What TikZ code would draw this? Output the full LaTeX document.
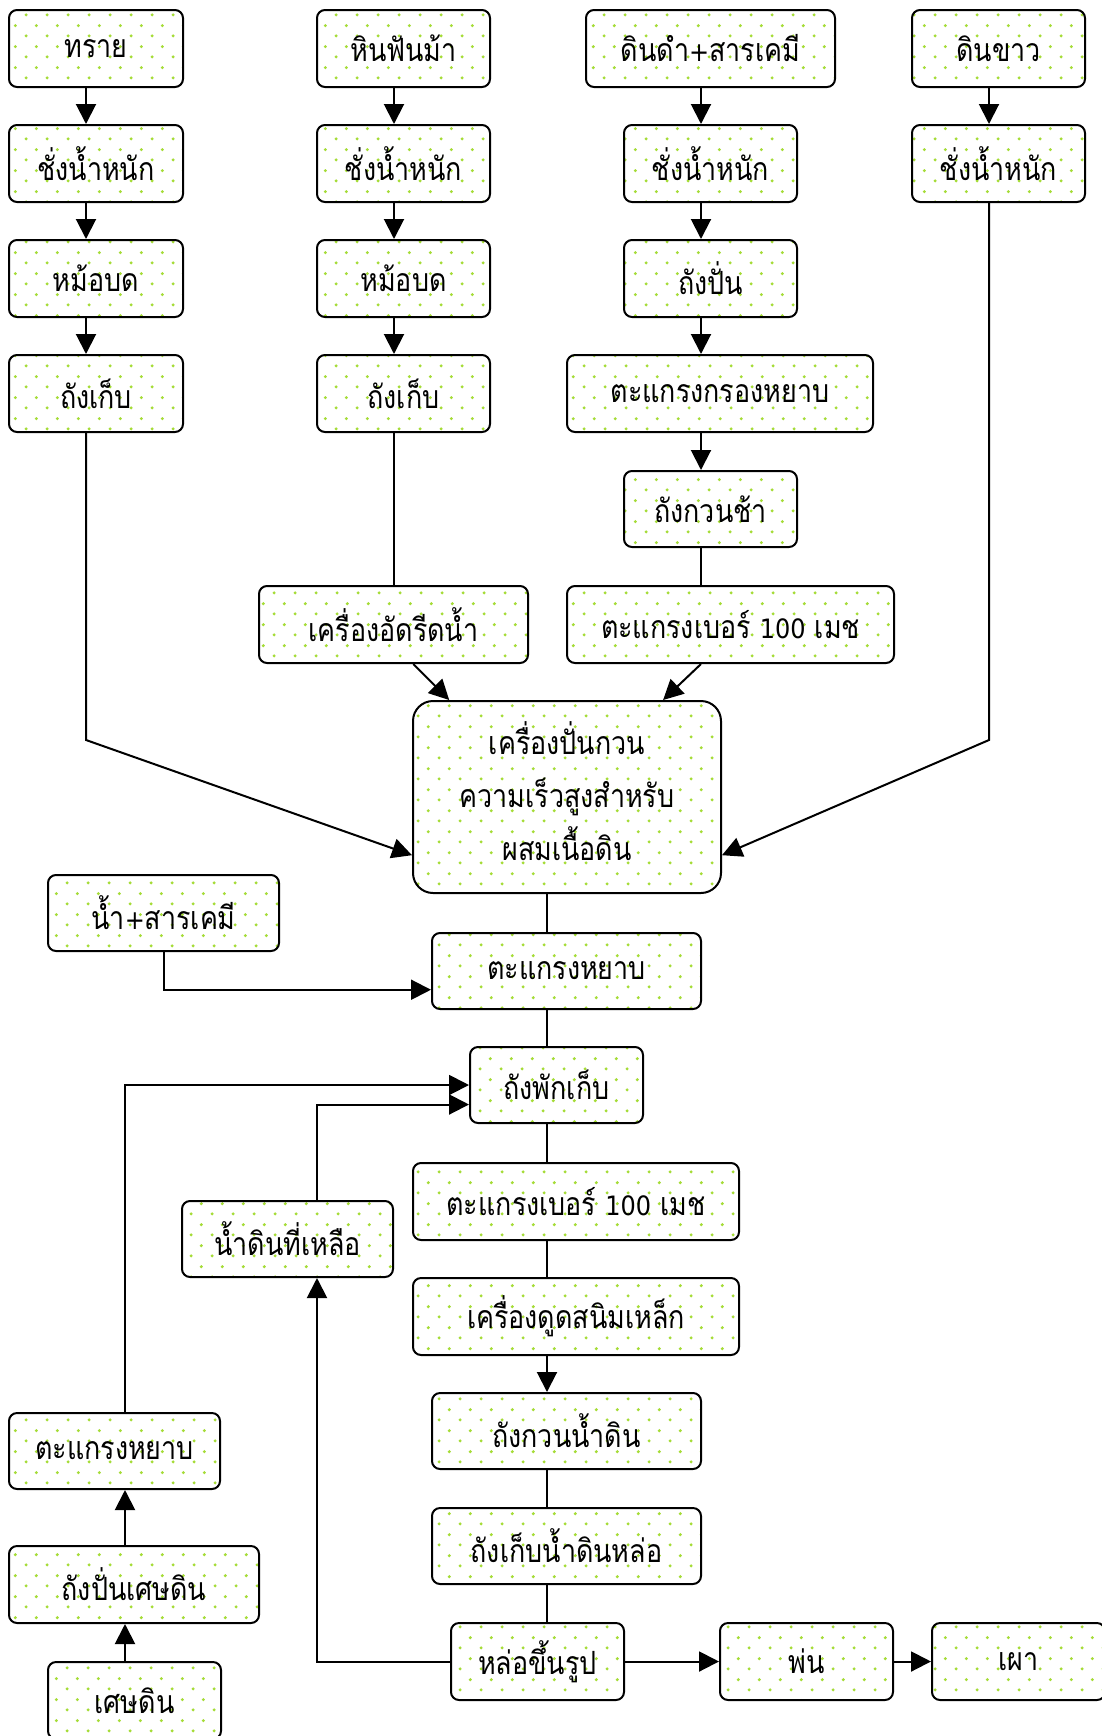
\documentclass[tikz,border=0pt]{standalone}
\usepackage{fontspec}
\newfontfamily\thaifont[Script=Thai,FakeStretch=0.84]{Loma}
\newfontfamily\latfont[FakeStretch=0.9]{DejaVu Sans}
\usetikzlibrary{arrows.meta,patterns,calc}
\pgfdeclarepatternformonly{sparsedots}{\pgfpointorigin}{\pgfpoint{15.5pt}{15.5pt}}{\pgfpoint{15.5pt}{15.5pt}}{%
  \pgfpathcircle{\pgfpoint{3.875pt}{3.875pt}}{1.25pt}%
  \pgfpathcircle{\pgfpoint{11.625pt}{11.625pt}}{1.25pt}%
  \pgfusepath{fill}}
\definecolor{dotgreen}{RGB}{165,220,55}
\newcommand\bx[7][]{\node[box,#1,minimum width={(#4-#3)*0.75pt},minimum height={(#6-#5)*0.75pt}] (#2) at ({(#3+#4)/2},{(#5+#6)/2}) {#7};}
\newcommand\lat[1]{{\latfont\fontsize{20}{22}\selectfont #1}}
\begin{document}
\begin{tikzpicture}[x=0.75pt,y=-0.75pt,
  box/.style={draw,line width=1.5pt,rounded corners=6pt,pattern=sparsedots,pattern color=dotgreen,
    inner sep=0pt,align=center,font=\thaifont\fontsize{24}{26}\selectfont},
  arr/.style={line width=1.5pt,-{Triangle[length=15pt,width=15pt]}},
  ln/.style={line width=1.5pt}]
\useasboundingbox[fill=white] (0,0) rectangle (1101,1736);
% column 1
\bx{a1}{9}{183}{10}{87}{ทราย}
\bx{a2}{9}{183}{125}{202}{ชั่งน้ำหนัก}
\bx{a3}{9}{183}{240}{317}{หม้อบด}
\bx{a4}{9}{183}{355}{432}{ถังเก็บ}
% column 2
\bx{b1}{317}{490}{10}{87}{หินฟันม้า}
\bx{b2}{317}{490}{125}{202}{ชั่งน้ำหนัก}
\bx{b3}{317}{490}{240}{317}{หม้อบด}
\bx{b4}{317}{490}{355}{432}{ถังเก็บ}
\bx{b5}{259}{528}{586}{663}{เครื่องอัดรีดน้ำ}
% column 3
\bx{c1}{586}{835}{10}{87}{ดินดำ\lat{+}สารเคมี}
\bx{c2}{624}{797}{125}{202}{ชั่งน้ำหนัก}
\bx{c3}{624}{797}{240}{317}{ถังปั่น}
\bx{c4}{567}{873}{355}{432}{ตะแกรงกรองหยาบ}
\bx{c5}{624}{797}{471}{547}{ถังกวนช้า}
\bx{c6}{567}{894}{586}{663}{ตะแกรงเบอร์ \lat{100} เมช}
% column 4
\bx{d1}{912}{1085}{10}{87}{ดินขาว}
\bx{d2}{912}{1085}{125}{202}{ชั่งน้ำหนัก}
% mixer
\bx[rounded corners=15pt,font=\thaifont\fontsize{24}{39.5}\selectfont]{m}{413}{721}{701}{893}{\raisebox{4pt}{\begin{tabular}{@{}c@{}}เครื่องปั่นกวน\\ความเร็วสูงสำหรับ\\ผสมเนื้อดิน\end{tabular}}}
% lower part
\bx{w}{48}{279}{875}{951}{น้ำ\lat{+}สารเคมี}
\bx{e1}{432}{701}{933}{1009}{ตะแกรงหยาบ}
\bx{e2}{470}{643}{1047}{1123}{ถังพักเก็บ}
\bx{e3}{413}{739}{1163}{1240}{ตะแกรงเบอร์ \lat{100} เมช}
\bx{r}{182}{393}{1201}{1277}{น้ำดินที่เหลือ}
\bx{e4}{413}{739}{1278}{1355}{เครื่องดูดสนิมเหล็ก}
\bx{e5}{432}{701}{1393}{1469}{ถังกวนน้ำดิน}
\bx{e6}{432}{701}{1508}{1584}{ถังเก็บน้ำดินหล่อ}
\bx{f}{451}{624}{1623}{1700}{หล่อขึ้นรูป}
\bx{g}{720}{893}{1623}{1700}{พ่น}
\bx{h}{932}{1105}{1623}{1700}{เผา}
\bx{s1}{9}{220}{1413}{1489}{ตะแกรงหยาบ}
\bx{s2}{9}{259}{1546}{1623}{ถังปั่นเศษดิน}
\bx{s3}{48}{221}{1662}{1739}{เศษดิน}
% helper coordinates
\coordinate (colA) at (86,0);
\coordinate (colB) at (394,0);
\coordinate (colC) at (701,0);
\coordinate (colD) at (989,0);
\coordinate (colM) at (547,0);
\coordinate (colR) at (317,0);
\coordinate (colS) at (125,0);
\coordinate (bendrow) at (0,740);
\coordinate (mL) at ($(m.south west)!0.2!(m.north west)$);
\coordinate (mR) at ($(m.south east)!0.2!(m.north east)$);
% connectors column 1
\draw[arr] (a1.south -| colA) -- (a2.north -| colA);
\draw[arr] (a2.south -| colA) -- (a3.north -| colA);
\draw[arr] (a3.south -| colA) -- (a4.north -| colA);
\draw[arr] (a4.south -| colA) -- (colA |- bendrow) -- (mL);
% column 2
\draw[arr] (b1.south -| colB) -- (b2.north -| colB);
\draw[arr] (b2.south -| colB) -- (b3.north -| colB);
\draw[arr] (b3.south -| colB) -- (b4.north -| colB);
\draw[ln] (b4.south -| colB) -- (b5.north -| colB);
\draw[arr] ($(b5.south west)!0.573!(b5.south east)$) -- ($(m.north west)!0.12!(m.north east)$);
% column 3
\draw[arr] (c1.south -| colC) -- (c2.north -| colC);
\draw[arr] (c2.south -| colC) -- (c3.north -| colC);
\draw[arr] (c3.south -| colC) -- (c4.north -| colC);
\draw[arr] (c4.south -| colC) -- (c5.north -| colC);
\draw[ln] (c5.south -| colC) -- (c6.north -| colC);
\draw[arr] (c6.south -| colC) -- ($(m.north west)!0.81!(m.north east)$);
% column 4
\draw[arr] (d1.south -| colD) -- (d2.north -| colD);
\draw[arr] (d2.south -| colD) -- (colD |- bendrow) -- (mR);
% main line
\draw[ln] (m.south -| colM) -- (e1.north -| colM);
\draw[arr] (w.south) |- ($(e1.south west)!0.26!(e1.north west)$);
\draw[ln] (e1.south -| colM) -- (e2.north -| colM);
\draw[ln] (e2.south -| colM) -- (e3.north -| colM);
\draw[ln] (e3.south -| colM) -- (e4.north -| colM);
\draw[arr] (e4.south -| colM) -- (e5.north -| colM);
\draw[ln] (e5.south -| colM) -- (e6.north -| colM);
\draw[ln] (e6.south -| colM) -- (f.north -| colM);
\draw[arr] (f.east) -- (g.west);
\draw[arr] (g.east) -- (h.west);
% returns
\draw[arr] (f.west) -| (r.south -| colR);
\draw[arr] (r.north -| colR) |- ($(e2.south west)!0.25!(e2.north west)$);
\draw[arr] (s1.north -| colS) |- (e2.west);
\draw[arr] (s2.north -| colS) -- (s1.south -| colS);
\draw[arr] (s3.north -| colS) -- (s2.south -| colS);
\end{tikzpicture}
\end{document}
